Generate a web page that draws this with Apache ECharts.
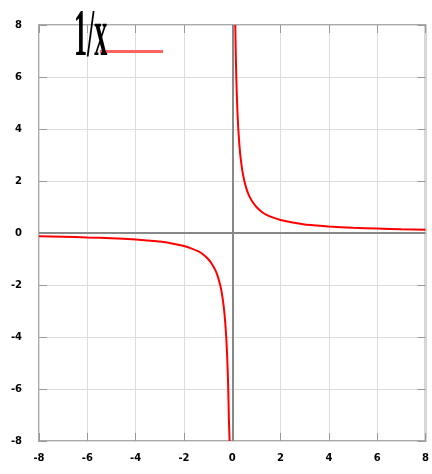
<!DOCTYPE html>
<html>
<head>
<meta charset="utf-8">
<script src="https://cdn.jsdelivr.net/npm/echarts@6/dist/echarts.min.js"></script>
<style>
  html, body { margin: 0; padding: 0; background: #fff; }
  #main { width: 432px; height: 474px; }
</style>
</head>
<body>
<div id="main"></div>
<script>
// curve: left branch and right branch of 1/x
var negX = [-8, -7, -6, -5, -4, -3.5, -3, -2.5, -2, -1.7, -1.4, -1.2, -1, -0.85, -0.7, -0.6, -0.5, -0.42, -0.35, -0.3, -0.25, -0.21, -0.18, -0.16, -0.14, -0.11];
var negY = [-0.125, -0.14, -0.17, -0.2, -0.25, -0.29, -0.33, -0.4, -0.5, -0.59, -0.71, -0.83, -1, -1.18, -1.43, -1.67, -2, -2.38, -2.86, -3.33, -4, -4.76, -5.56, -6.25, -7.14, -8];
var posX = [0.125, 0.14, 0.16, 0.18, 0.21, 0.25, 0.3, 0.35, 0.42, 0.5, 0.6, 0.7, 0.85, 1, 1.2, 1.4, 1.7, 2, 2.5, 3, 3.5, 4, 5, 6, 7, 8];
var posY = [8, 7.14, 6.25, 5.56, 4.76, 4, 3.33, 2.86, 2.38, 2, 1.67, 1.43, 1.18, 1, 0.83, 0.71, 0.59, 0.5, 0.4, 0.33, 0.29, 0.25, 0.2, 0.17, 0.14, 0.125];
var seriesName = "1/x";
var axisMin = -8;
var axisMax = 8;
var axisStep = 2;

var points = [];
negX.forEach(function(x, i) { points.push([x, negY[i]]); });
points.push(null);
posX.forEach(function(x, i) { points.push([x, posY[i]]); });

var labelFont = {
  color: "#000",
  fontFamily: "DejaVu Sans",
  fontSize: 10,
  fontWeight: "bold"
};

function mainAxis(pos, margin) {
  return {
    type: "value",
    position: pos,
    min: axisMin,
    max: axisMax,
    interval: axisStep,
    axisLine: { show: false, onZero: false },
    axisTick: { show: true, inside: true, length: 8, lineStyle: { color: "#999", width: 1 } },
    axisLabel: Object.assign({ margin: margin }, labelFont),
    splitLine: { show: true, lineStyle: { color: "#ddd", width: 1 } }
  };
}

function sideAxis(pos) {
  return {
    type: "value",
    position: pos,
    min: axisMin,
    max: axisMax,
    interval: axisStep,
    axisLine: { show: false, onZero: false },
    axisTick: { show: true, inside: true, length: 8, lineStyle: { color: "#999", width: 1 } },
    axisLabel: { show: false },
    splitLine: { show: false }
  };
}

var myChart = echarts.init(document.getElementById("main"));
myChart.setOption({
  animation: false,
  grid: {
    left: 39,
    right: 1,
    top: 25,
    bottom: 33,
    show: true,
    borderColor: "#aaa",
    borderWidth: 2,
    backgroundColor: "#fff"
  },
  legend: {
    left: 100,
    top: 50,
    padding: 0,
    itemWidth: 63,
    itemHeight: 3,
    icon: "rect",
    itemStyle: { color: "#ff6262" },
    formatter: function() { return ""; },
    textStyle: { fontSize: 1 },
    data: [seriesName]
  },
  // squeezed legend caption, as in the picture
  graphic: [{
    type: "text",
    left: 74,
    top: 4,
    scaleX: 0.45,
    scaleY: 1.15,
    z: 100,
    style: {
      text: seriesName,
      fill: "#000",
      font: "bold 58px 'Liberation Serif'"
    }
  }],
  xAxis: [mainAxis("bottom", 12), sideAxis("top")],
  yAxis: [mainAxis("left", 17), sideAxis("right")],
  series: [{
    name: seriesName,
    type: "line",
    data: points,
    showSymbol: false,
    connectNulls: false,
    smooth: 0.2,
    lineStyle: { color: "#ff0000", width: 2 },
    itemStyle: { color: "#ff0000" },
    markLine: {
      silent: true,
      symbol: "none",
      label: { show: false },
      lineStyle: { color: "#888", width: 2, type: "solid" },
      data: [{ xAxis: 0 }, { yAxis: 0 }]
    },
    z: 3
  }]
});
</script>
</body>
</html>
